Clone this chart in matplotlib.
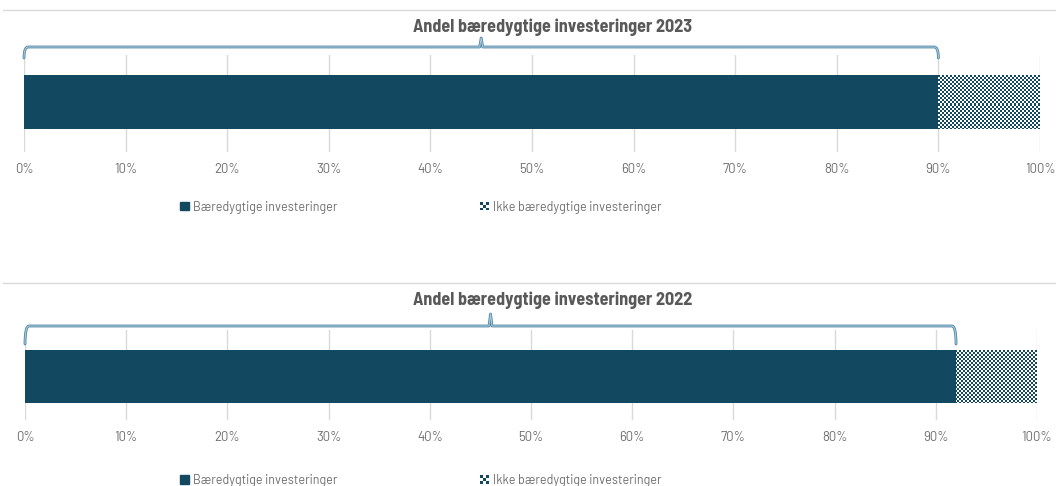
import numpy as np
import matplotlib
matplotlib.use("Agg")
import matplotlib.pyplot as plt
from matplotlib.path import Path
from matplotlib.patches import PathPatch, Patch, Rectangle
from matplotlib.legend_handler import HandlerBase
import matplotlib.transforms as mtransforms

# andel i procent
years = ["2023", "2022"]
sustainable = [90, 92]
not_sustainable = [10, 8]
series_names = ["Bæredygtige investeringer", "Ikke bæredygtige investeringer"]
ticks = list(range(0, 101, 10))
tick_labels = [f"{t}%" for t in ticks]

DARK = "#134960"
GRID = "#D9D9D9"
TXT = "#595959"
W, H = 1056, 486

TITLE_FONT = ["Barlow Semi Condensed", "Roboto Condensed", "DejaVu Sans"]
SMALL_FONT = ["Barlow", "Roboto", "DejaVu Sans"]
plt.rcParams["font.family"] = SMALL_FONT

fig = plt.figure(figsize=(W / 100, H / 100), dpi=100)

# panel layout in pixels: axes left/right/top/bottom, bar top/bottom, brace y's, title, legend
panels = [
    dict(l=24, r=1040, t=55, b=152, bt=75, bb=129, line=47, end=58, peak=38,
         title_y=27, leg_y=207, sep=10),
    dict(l=25, r=1037, t=330, b=420, bt=350, bb=403, line=326, end=344, peak=314,
         title_y=300, leg_y=480, sep=283),
]


def fx(px):
    return px / W


def fy(py):
    return 1 - py / H


class CheckerHandler(HandlerBase):
    # lille ternet firkant i forklaringen
    def create_artists(self, legend, orig, xd, yd, width, height, fontsize, trans):
        n = 3
        s = min(width, height) / n
        out = []
        for r in range(n):
            for c in range(n):
                if (r + c) % 2 == 0:
                    out.append(Rectangle((-xd + c * s, -yd + r * s), s, s,
                                         facecolor=DARK, lw=0, transform=trans))
        return out


def brace(ax, x0, x1, y_line, y_end, y_peak):
    tr = mtransforms.blended_transform_factory(ax.transData, ax.transAxes)
    d = 0.4
    xc = (x0 + x1) / 2
    verts = [(x0, y_end), (x0, y_line), (x0 + d, y_line),
             (xc - 0.15, y_line), (xc, y_peak), (xc + 0.15, y_line),
             (x1 - d, y_line), (x1, y_line), (x1, y_end)]
    codes = [Path.MOVETO, Path.CURVE3, Path.CURVE3,
             Path.LINETO, Path.LINETO, Path.LINETO,
             Path.LINETO, Path.CURVE3, Path.CURVE3]
    for lw, c in [(2.0, "#4F86A3"), (0.8, "#A9CADB")]:
        ax.add_patch(PathPatch(Path(verts, codes), transform=tr, fill=False,
                               edgecolor=c, lw=lw, clip_on=False,
                               capstyle="round", joinstyle="round"))


for i, p in enumerate(panels):
    ax = fig.add_axes([fx(p["l"]), fy(p["b"]), fx(p["r"] - p["l"]), (p["b"] - p["t"]) / H])
    ax.set_xlim(0, 100)
    ax.set_ylim(0, 1)
    hgt = p["b"] - p["t"]
    y0 = (p["b"] - p["bb"]) / hgt
    y1 = (p["b"] - p["bt"]) / hgt

    ax.barh(y0, sustainable[i], height=y1 - y0, align="edge", color=DARK, zorder=2)
    rest = ax.barh(y0, not_sustainable[i], left=sustainable[i], height=y1 - y0,
                   align="edge", color="white", zorder=2)[0]

    # ternet fyld i den ikke-bæredygtige del
    nx, ny = int((p["r"] - p["l"]) / 2), int(hgt / 2)
    checker = (np.add.outer(np.arange(ny), np.arange(nx)) % 2).astype(float)
    img = ax.imshow(checker, cmap=matplotlib.colors.ListedColormap(["white", DARK]),
                    extent=(0, 100, 0, 1), aspect="auto", interpolation="nearest", zorder=3)
    img.set_clip_path(rest)

    for t in ticks:
        ax.axvline(t, color=GRID, lw=1, zorder=1)
    ax.set_xticks(ticks)
    ax.set_xticklabels(tick_labels, color="#6E6E6E", fontsize=9.5)
    ax.tick_params(length=0, pad=8)
    ax.set_yticks([])
    for s in ax.spines.values():
        s.set_visible(False)

    brace(ax, 0, sustainable[i],
          (p["b"] - p["line"]) / hgt, (p["b"] - p["end"]) / hgt, (p["b"] - p["peak"]) / hgt)

    fig.text(fx(553), fy(p["title_y"]), f"Andel bæredygtige investeringer {years[i]}",
             ha="center", va="center", fontsize=13, fontweight="bold", color=TXT,
             family=TITLE_FONT)

    fig.add_artist(plt.Line2D([fx(3), 1], [fy(p["sep"])] * 2, color=GRID, lw=1))

    handles = [Patch(facecolor=DARK, edgecolor=DARK), Patch(facecolor="white")]
    fig.legend(handles, series_names, loc="center left",
               bbox_to_anchor=(fx(180), fy(p["leg_y"])), ncol=2, frameon=False,
               fontsize=9, labelcolor="#6E6E6E", handlelength=0.7, handleheight=0.7,
               handletextpad=0.35, columnspacing=11.4, borderaxespad=0, borderpad=0,
               handler_map={handles[1]: CheckerHandler()})

fig.savefig("out.png", dpi=100)
